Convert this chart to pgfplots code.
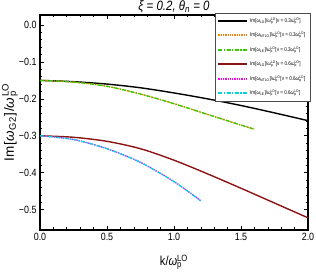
\documentclass[border=0pt]{standalone}
\usepackage{fontspec}
\setmainfont{Liberation Sans}[FakeStretch=0.85]
\newfontfamily\ylabfont{Liberation Sans}[LetterSpace=6]
\usepackage{pgfplots}
\pgfplotsset{compat=1.18}
\definecolor{cOr}{RGB}{255,128,0}
\definecolor{cGr}{RGB}{50,205,0}
\definecolor{cDr}{RGB}{140,20,20}
\definecolor{cMg}{RGB}{255,0,255}
\definecolor{cCy}{RGB}{0,210,230}
\newcommand\om{\textit{ω}}
\newcommand\pLO{\rlap{\textsubscript{p}}\textsuperscript{LO}}
\newcommand\lab[2]{Im[\om\textsubscript{#1}]/\om\pLO[v = #2\om\pLO]}

\pgfplotstableread{
k y
0.00 -0.1500
0.25 -0.1535
0.50 -0.1600
0.75 -0.1700
1.00 -0.1840
1.25 -0.2000
1.50 -0.2180
1.75 -0.2380
2.00 -0.2590
}\blackdata
\pgfplotstableread{
k y
0.00 -0.1500
0.25 -0.1545
0.50 -0.1660
0.75 -0.1870
1.00 -0.2130
1.25 -0.2420
1.50 -0.2710
1.60 -0.2820
}\greendata
\pgfplotstableread{
k y
0.00 -0.3000
0.25 -0.3040
0.50 -0.3150
0.75 -0.3350
1.00 -0.3660
1.25 -0.4030
1.50 -0.4420
1.75 -0.4820
2.00 -0.5220
}\reddata
\pgfplotstableread{
k y
0.00 -0.3000
0.25 -0.3100
0.50 -0.3350
0.75 -0.3720
1.00 -0.4240
1.20 -0.4760
}\cyandata

\begin{document}
\begin{tikzpicture}
\begin{axis}[
  scale only axis,
  width=268pt, height=215pt,
  xmin=0, xmax=2, ymin=-0.555, ymax=0.027,
  xtick={0,0.5,1,1.5,2},
  xticklabels={0.0,0.5,1.0,1.5,2.0},
  ytick={-0.5,-0.4,-0.3,-0.2,-0.1,0},
  yticklabels={−0.5,−0.4,−0.3,−0.2,−0.1,0.0},
  minor x tick num=4, minor y tick num=4,
  tick align=inside, tick pos=both,
  xticklabel pos=left, yticklabel pos=left,
  major tick length=4pt, minor tick length=2.5pt,
  every tick/.style={black, line width=0.6pt},
  axis line style={line width=1.1pt},
  ticklabel style={font=\fontsize{10.5}{11}\selectfont},
  every axis title shift=0pt,
  title={\textit{ξ = 0.2, θ\textsubscript{n} = 0}},
  title style={at={(axis description cs:0.5,1)}, anchor=center, yshift=8pt, font=\fontsize{13.5}{14}\selectfont},
  xlabel={k/\om\pLO},
  xlabel style={at={(axis description cs:0.5,0)}, anchor=center, yshift=-32pt, font=\fontsize{13}{14}\selectfont},
  ylabel={Im[\om\textsubscript{G2}]/\om\pLO},
  ylabel style={at={(axis description cs:-0.112,0.5)}, anchor=center, font=\ylabfont\fontsize{13.5}{14}\selectfont},
  legend style={at={(rel axis cs:1.0075,1.009)}, anchor=north east,
    font=\fontsize{5.4}{6.2}\selectfont, draw=black!70,
    fill=white, row sep=4.3pt, inner xsep=2.5pt, inner ysep=2.5pt,
    cells={anchor=west}},
  legend image code/.code={\draw[#1, line width=1.7pt] (0pt,0pt) -- (29pt,0pt);},
]
\addplot[black, line width=1.4pt, smooth] table[x=k,y=y]{\blackdata};
\addlegendentry{\lab{LO}{0.3}}
\addplot[cOr, line width=1.3pt, densely dotted, smooth] table[x=k,y=y]{\greendata};
\addlegendentry{\lab{MTLO}{0.3}}
\addplot[cGr, line width=1.3pt, dash pattern=on 4pt off 1.5pt on 1.3pt off 1.5pt, smooth] table[x=k,y=y]{\greendata};
\addlegendentry{\lab{LE}{0.3}}
\addplot[cDr, line width=1.4pt, smooth] table[x=k,y=y]{\reddata};
\addlegendentry{\lab{LO}{0.6}}
\addplot[cMg, line width=1.3pt, densely dotted, smooth] table[x=k,y=y]{\cyandata};
\addlegendentry{\lab{MTLO}{0.6}}
\addplot[cCy, line width=1.3pt, dash pattern=on 4pt off 1.5pt on 1.3pt off 1.5pt, smooth] table[x=k,y=y]{\cyandata};
\addlegendentry{\lab{LE}{0.6}}
\coordinate (bl) at (rel axis cs:0,0);
\coordinate (tr) at (rel axis cs:1,1);
\end{axis}
\pgfresetboundingbox
\path ([xshift=-40pt,yshift=-43pt]bl) rectangle ([xshift=8pt,yshift=15pt]tr);
\end{tikzpicture}
\end{document}
